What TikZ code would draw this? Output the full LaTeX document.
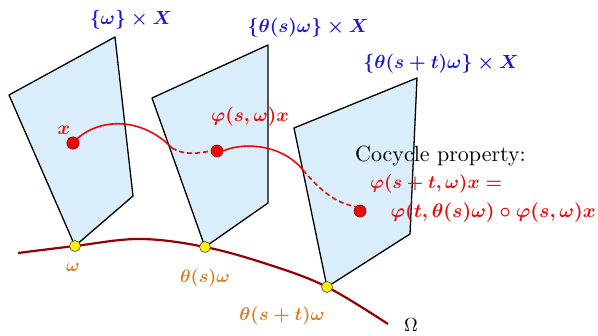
\documentclass[tikz,border=0pt]{standalone}
\usepackage{amsmath}
\newcommand{\sclab}[2]{\scalebox{#1}{\boldmath$#2$}}
\begin{document}
\begin{tikzpicture}[x=1pt,y=-1pt,
  panel/.style={draw=black,line width=1.3pt,fill=panelblue,line join=round},
  fib/.style={text=fibblue},
  redlab/.style={text=cred},
  orlab/.style={text=corange},
  traj/.style={draw=cred,line width=1.6pt},
  trajd/.style={traj,dash pattern=on 5pt off 3pt},
  ydot/.style={circle,draw=black!70,line width=0.6pt,fill=yellow,inner sep=0pt,minimum size=11pt},
  rdot/.style={circle,draw=red!60!black,line width=0.6pt,fill=cred,inner sep=0pt,minimum size=12pt}]
\definecolor{panelblue}{RGB}{218,237,250}
\definecolor{fibblue}{RGB}{25,25,215}
\definecolor{cred}{RGB}{235,10,10}
\definecolor{corange}{RGB}{215,125,30}
\definecolor{omred}{RGB}{150,0,0}
\useasboundingbox (0,0) rectangle (598,336);
% panels
\draw[panel] (75,246) -- (9,95) -- (115,37) -- (133,196) -- cycle;
\draw[panel] (205,247) -- (152,98) -- (268,45) -- (268,203) -- cycle;
\draw[panel] (327,287) -- (294,128) -- (417,78) -- (410,234) -- cycle;
% base curve Omega
\draw[draw=omred,line width=2.2pt] plot[smooth,tension=0.6] coordinates {(18,253) (75,246) (140,239) (205,247) (270,265) (327,287) (388,324)};
% points on base
\node[ydot] (w0) at (75,246) {};
\node[ydot] (w1) at (205,247) {};
\node[ydot] (w2) at (327,287) {};
% trajectory
\coordinate (c1) at (172,148);
\coordinate (c2) at (303,170);
\node[rdot] (p0) at (73,143) {};
\node[rdot] (p1) at (217,151) {};
\node[rdot] (p2) at (360,211) {};
\draw[traj] (p0.center) .. controls (95,118) and (140,115) .. (c1);
\draw[trajd] (c1) .. controls (185,156) and (200,153) .. (p1.west);
\draw[traj] (p1.east) .. controls (240,143) and (280,142) .. (c2);
\draw[trajd] (c2) .. controls (320,190) and (335,203) .. (p2.north west);
\node[rdot] at (p0) {};
% labels
\node[fib] (l0) at (131,20) {\sclab{1.9}{\{\omega\}\times X}};
\node[fib] (l1) at (308,28) {\sclab{1.9}{\{\theta(s)\omega\}\times X}};
\node[fib] (l2) at (441,64) {\sclab{1.9}{\{\theta(s+t)\omega\}\times X}};
\node[redlab] (lx) at (64,130) {\sclab{1.9}{x}};
\node[redlab] (lp) at (250,117) {\sclab{1.9}{\varphi(s,\omega)x}};
\node[orlab] (o0) at (73,268) {\sclab{1.8}{\omega}};
\node[orlab] (o1) at (205,278) {\sclab{1.8}{\theta(s)\omega}};
\node[orlab] (o2) at (282,316) {\sclab{1.85}{\theta(s+t)\omega}};
\node[anchor=north,inner sep=0pt] (om) at (411,318) {\scalebox{1.9}{$\Omega$}};
\node[anchor=base west,inner sep=0pt] (cp) at (355,162) {\scalebox{2.2}{Cocycle property:}};
\node[redlab,anchor=west,inner sep=0pt] (e1) at (370,184) {\sclab{1.85}{\varphi(s+t,\omega)x=}};
\node[redlab,anchor=east,inner sep=0pt] (e2) at (596,213) {\sclab{1.95}{\varphi(t,\theta(s)\omega)\circ\varphi(s,\omega)x}};
\end{tikzpicture}
\end{document}
